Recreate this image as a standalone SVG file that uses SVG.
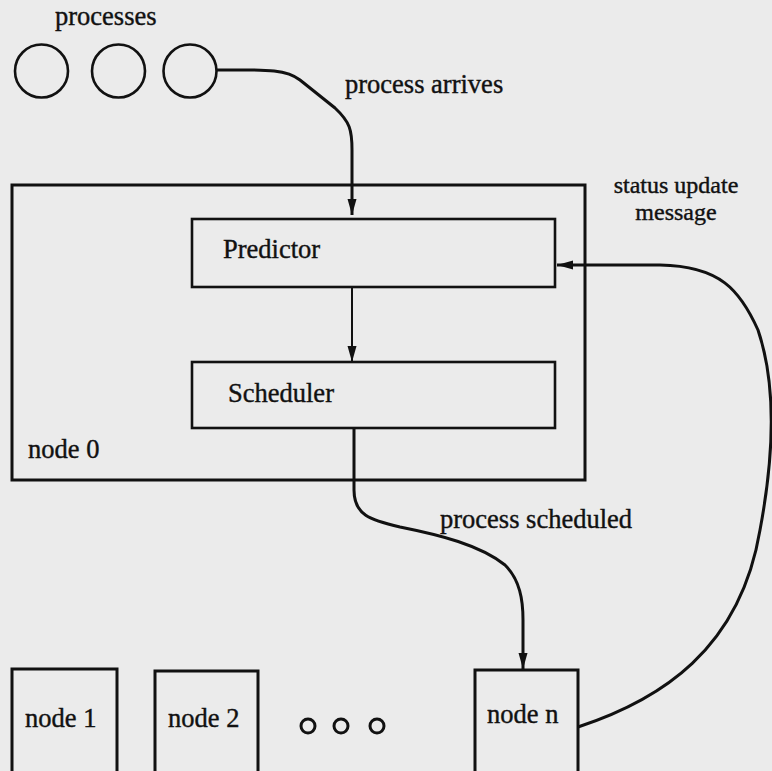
<svg xmlns="http://www.w3.org/2000/svg" width="772" height="771" viewBox="0 0 772 771">
<defs>
<style>
.bg{fill:#ebebeb}
.box{fill:none;stroke:#111;stroke-width:3}
.ibox{fill:none;stroke:#111;stroke-width:2.6}
.circ{fill:none;stroke:#111;stroke-width:2.6}
.dot{fill:none;stroke:#111;stroke-width:3}
.conn{fill:none;stroke:#111;stroke-width:3}
.thin{fill:none;stroke:#111;stroke-width:2}
text{font-family:"Liberation Serif","Times New Roman",serif;font-size:26.5px;fill:#111;stroke:#111;stroke-width:0.4}
.small{font-size:24px}
</style>
<marker id="arr" markerUnits="userSpaceOnUse" markerWidth="18" markerHeight="10" refX="16" refY="4.5" orient="auto">
<path d="M0,0 L16,4.5 L0,9 z" fill="#111"/>
</marker>
</defs>
<rect class="bg" x="0" y="0" width="772" height="771"/>
<g id="processes">
<circle class="circ" cx="41.5" cy="71" r="26.5"/>
<circle class="circ" cx="118.5" cy="71" r="26.5"/>
<circle class="circ" cx="190" cy="71" r="26.5"/>
<text x="55" y="25">processes</text>
</g>
<g id="node0">
<rect class="box" x="12" y="185" width="573" height="295"/>
<text x="28" y="458">node 0</text>
</g>
<g id="predictor">
<rect class="ibox" x="192" y="219" width="363" height="68"/>
<text x="223" y="258">Predictor</text>
</g>
<g id="scheduler">
<rect class="ibox" x="192" y="362" width="363" height="66"/>
<text x="228" y="402">Scheduler</text>
</g>
<g id="node1">
<rect class="box" x="12" y="669" width="105" height="110"/>
<text x="25" y="727">node 1</text>
</g>
<g id="node2">
<rect class="box" x="155" y="671" width="103" height="110"/>
<text x="168" y="727">node 2</text>
</g>
<g id="ellipsis">
<circle class="dot" cx="308" cy="726" r="7"/>
<circle class="dot" cx="341" cy="726" r="7"/>
<circle class="dot" cx="377" cy="726" r="7"/>
</g>
<g id="noden">
<rect class="box" x="475" y="670" width="103" height="110"/>
<text x="487" y="723">node n</text>
</g>
<g id="connectors">
<path class="conn" marker-end="url(#arr)" d="M217,70 C260,70 285,68 300,80 L335,108 C350,122 352,130 352,150 L352,215"/>
<path class="thin" marker-end="url(#arr)" d="M352,287 L352,362"/>
<path class="conn" marker-end="url(#arr)" d="M354,428 L354,490 C354,515 370,520 400,527 C440,535 480,545 505,565 C520,580 523,600 523,620 L523,669"/>
<path class="conn" marker-end="url(#arr)" d="M578,727 C660,700 740,650 760,530 C775,450 775,380 758,330 C740,290 720,266 660,265 L557,265"/>
</g>
<g id="labels">
<text x="345" y="93">process arrives</text>
<text x="440" y="528">process scheduled</text>
<text class="small" x="676" y="193" text-anchor="middle">status update</text>
<text class="small" x="676" y="220" text-anchor="middle">message</text>
</g>
</svg>
